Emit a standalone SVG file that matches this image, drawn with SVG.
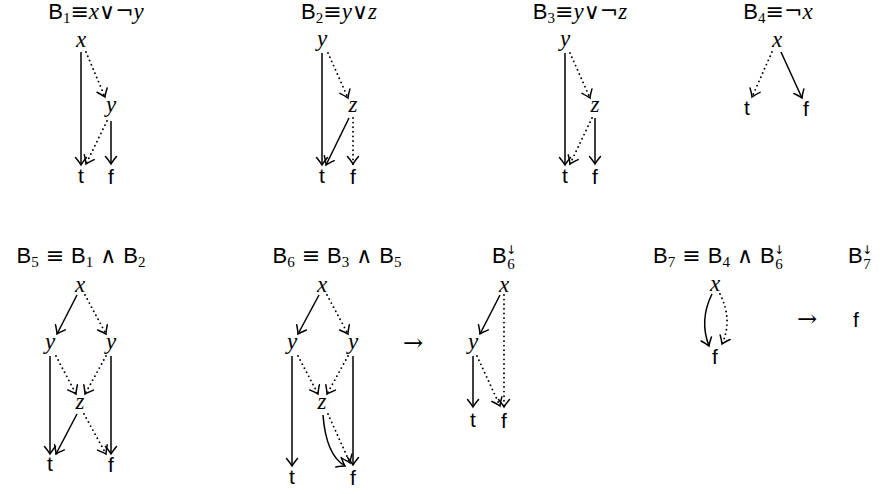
<svg xmlns="http://www.w3.org/2000/svg" width="883" height="494" viewBox="0 0 883 494">
<style>
text{fill:#000}
.t{font-family:"Liberation Sans","DejaVu Sans",sans-serif;font-size:21px}
.m{font-family:"Liberation Serif","DejaVu Serif",serif;font-size:23px;font-style:italic}
.sf{font-family:"Liberation Sans","DejaVu Sans",sans-serif;font-style:normal}
.rm{font-family:"Liberation Serif","DejaVu Serif",serif;font-style:normal}
.it{font-family:"Liberation Serif","DejaVu Serif",serif;font-style:italic;font-size:23px}
.sym{font-family:"DejaVu Serif","Liberation Serif",serif;font-style:normal;font-weight:300}
.sub{font-size:15px}
.title{font-size:22px;text-anchor:middle}
.ts{font-size:22px;text-anchor:start}
.te{font-size:22px;text-anchor:end}
.sc{font-family:"DejaVu Sans",sans-serif;font-size:12px;text-anchor:middle}
.sn{font-family:"Liberation Serif","DejaVu Serif",serif;font-size:15px;text-anchor:middle}
.lbl{text-anchor:middle}
.e{fill:none;stroke:#000;stroke-width:1.5;marker-end:url(#ah)}
.d{fill:none;stroke:#000;stroke-width:1.9;stroke-dasharray:0 4.6;stroke-linecap:round;marker-end:url(#ah)}
</style>
<defs>
<marker id="ah" markerUnits="userSpaceOnUse" markerWidth="16" markerHeight="16" refX="0" refY="0" viewBox="-9 -8 11 16" orient="auto" overflow="visible">
<path d="M-7.5,-5.5 Q-2.5,-1.4 0,0 Q-2.5,1.4 -7.5,5.5" fill="none" stroke="#000" stroke-width="1.5" stroke-linecap="round" stroke-dasharray="none"/>
</marker>
</defs>
<rect width="883" height="494" fill="#fff"/>

<g id="titles">
<text class="title" x="96" y="19"><tspan class="sf">B</tspan><tspan class="rm sub" dy="4">1</tspan><tspan class="sym" dy="-4">≡</tspan><tspan class="it">x</tspan><tspan class="sym">∨¬</tspan><tspan class="it">y</tspan></text>
<text class="title" x="339" y="19"><tspan class="sf">B</tspan><tspan class="rm sub" dy="4">2</tspan><tspan class="sym" dy="-4">≡</tspan><tspan class="it">y</tspan><tspan class="sym">∨</tspan><tspan class="it">z</tspan></text>
<text class="title" x="580" y="19"><tspan class="sf">B</tspan><tspan class="rm sub" dy="4">3</tspan><tspan class="sym" dy="-4">≡</tspan><tspan class="it">y</tspan><tspan class="sym">∨¬</tspan><tspan class="it">z</tspan></text>
<text class="title" x="778" y="19"><tspan class="sf">B</tspan><tspan class="rm sub" dy="4">4</tspan><tspan class="sym" dy="-4">≡¬</tspan><tspan class="it">x</tspan></text>
<text class="title" x="81" y="263"><tspan class="sf">B</tspan><tspan class="rm sub" dy="4">5</tspan><tspan class="sym" dy="-4"> ≡ </tspan><tspan class="sf">B</tspan><tspan class="rm sub" dy="4">1</tspan><tspan class="sym" dy="-4"> ∧ </tspan><tspan class="sf">B</tspan><tspan class="rm sub" dy="4">2</tspan></text>
<text class="title" x="337" y="263"><tspan class="sf">B</tspan><tspan class="rm sub" dy="4">6</tspan><tspan class="sym" dy="-4"> ≡ </tspan><tspan class="sf">B</tspan><tspan class="rm sub" dy="4">3</tspan><tspan class="sym" dy="-4"> ∧ </tspan><tspan class="sf">B</tspan><tspan class="rm sub" dy="4">5</tspan></text>
<text class="ts" x="492" y="263"><tspan class="sf">B</tspan></text>
<text class="sc" x="511" y="254">↓</text>
<text class="sn" x="511" y="269">6</text>
<text class="te" x="760" y="263"><tspan class="sf">B</tspan><tspan class="rm sub" dy="4">7</tspan><tspan class="sym" dy="-4"> ≡ </tspan><tspan class="sf">B</tspan><tspan class="rm sub" dy="4">4</tspan><tspan class="sym" dy="-4"> ∧&#160;</tspan></text>
<text class="ts" x="760" y="263"><tspan class="sf">B</tspan></text>
<text class="sc" x="779" y="254">↓</text>
<text class="sn" x="779" y="269">6</text>
<text class="ts" x="848" y="263"><tspan class="sf">B</tspan></text>
<text class="sc" x="867" y="254">↓</text>
<text class="sn" x="867" y="269">7</text>
</g>

<g id="connectors">
<!-- B1 -->
<path class="e" d="M81,52 L81,165"/>
<path class="d" d="M86,52 L105,97"/>
<path class="e" d="M111,121 L111,164"/>
<path class="d" d="M107,121 L86,164"/>
<!-- B2 -->
<path class="e" d="M322,53 L322,165"/>
<path class="d" d="M328,53 L348,98"/>
<path class="e" d="M349,118 L326,165"/>
<path class="d" d="M353,118 L353,164"/>
<!-- B3 -->
<path class="e" d="M565,53 L565,165"/>
<path class="d" d="M570,53 L590,98"/>
<path class="d" d="M592,118 L570,164"/>
<path class="e" d="M595,118 L595,164"/>
<!-- B4 -->
<path class="d" d="M772,52 L752,97"/>
<path class="e" d="M781,52 L802,98"/>
<!-- B5 -->
<path class="e" d="M77,295 L57,334"/>
<path class="d" d="M85,295 L106,334"/>
<path class="e" d="M50,356 L50,454"/>
<path class="d" d="M56,356 L76,394"/>
<path class="d" d="M106,356 L85,394"/>
<path class="e" d="M111,356 L111,454"/>
<path class="e" d="M77,414 L56,454"/>
<path class="d" d="M84,414 L106,454"/>
<!-- B6 -->
<path class="e" d="M319,295 L298,334"/>
<path class="d" d="M327,295 L348,334"/>
<path class="e" d="M292,356 L292,466"/>
<path class="d" d="M298,356 L318,394"/>
<path class="d" d="M348,356 L327,394"/>
<path class="e" d="M353,356 L353,465"/>
<path class="e" d="M323,415 Q326,455 345,466"/>
<path class="d" d="M328,414 L350,463"/>
<!-- B6 down -->
<path class="e" d="M500,295 L480,334"/>
<path class="d" d="M504,295 L504,407"/>
<path class="e" d="M473,356 L473,407"/>
<path class="d" d="M477,356 L500,406"/>
<!-- B7 -->
<path class="e" d="M712,294 Q699,320 709,346"/>
<path class="d" d="M720,294 Q733,320 722,344"/>
</g>

<g id="b1-x"><text class="m lbl" x="81" y="47">x</text></g>
<g id="b1-y"><text class="m lbl" x="111" y="112">y</text></g>
<g id="b1-t"><text class="t lbl" x="81" y="183">t</text></g>
<g id="b1-f"><text class="t lbl" x="111" y="184">f</text></g>

<g id="b2-y"><text class="m lbl" x="322" y="46">y</text></g>
<g id="b2-z"><text class="m lbl" x="353" y="112">z</text></g>
<g id="b2-t"><text class="t lbl" x="322" y="183">t</text></g>
<g id="b2-f"><text class="t lbl" x="353" y="184">f</text></g>

<g id="b3-y"><text class="m lbl" x="565" y="46">y</text></g>
<g id="b3-z"><text class="m lbl" x="595" y="112">z</text></g>
<g id="b3-t"><text class="t lbl" x="565" y="183">t</text></g>
<g id="b3-f"><text class="t lbl" x="595" y="184">f</text></g>

<g id="b4-x"><text class="m lbl" x="777" y="47">x</text></g>
<g id="b4-t"><text class="t lbl" x="747" y="115">t</text></g>
<g id="b4-f"><text class="t lbl" x="806" y="116">f</text></g>

<g id="b5-x"><text class="m lbl" x="80" y="292">x</text></g>
<g id="b5-yl"><text class="m lbl" x="50" y="349">y</text></g>
<g id="b5-yr"><text class="m lbl" x="111" y="349">y</text></g>
<g id="b5-z"><text class="m lbl" x="80" y="409">z</text></g>
<g id="b5-t"><text class="t lbl" x="50" y="471">t</text></g>
<g id="b5-f"><text class="t lbl" x="111" y="472">f</text></g>

<g id="b6-x"><text class="m lbl" x="322" y="292">x</text></g>
<g id="b6-yl"><text class="m lbl" x="292" y="349">y</text></g>
<g id="b6-yr"><text class="m lbl" x="353" y="349">y</text></g>
<g id="b6-z"><text class="m lbl" x="322" y="409">z</text></g>
<g id="b6-t"><text class="t lbl" x="292" y="484">t</text></g>
<g id="b6-f"><text class="t lbl" x="353" y="485">f</text></g>

<g id="arrow1"><text class="sym lbl" x="413" y="351" style="font-size:24px">→</text></g>

<g id="b6d-x"><text class="m lbl" x="504" y="292">x</text></g>
<g id="b6d-y"><text class="m lbl" x="473" y="349">y</text></g>
<g id="b6d-t"><text class="t lbl" x="473" y="427">t</text></g>
<g id="b6d-f"><text class="t lbl" x="504" y="428">f</text></g>

<g id="b7-x"><text class="m lbl" x="715" y="291">x</text></g>
<g id="b7-f"><text class="t lbl" x="715" y="364">f</text></g>

<g id="arrow2"><text class="sym lbl" x="807" y="327" style="font-size:24px">→</text></g>

<g id="b7d-f"><text class="t lbl" x="856" y="327">f</text></g>
</svg>
